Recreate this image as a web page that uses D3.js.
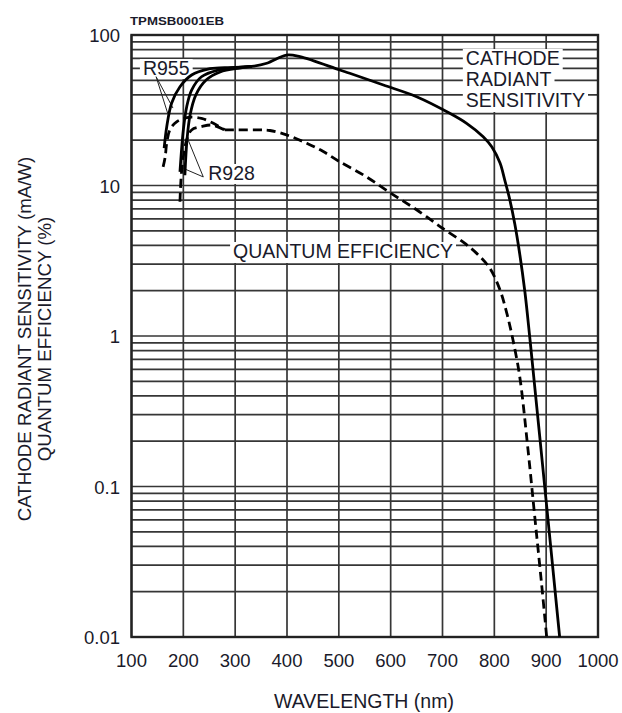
<!DOCTYPE html>
<html>
<head>
<meta charset="utf-8">
<script src="https://cdn.jsdelivr.net/npm/d3@7/dist/d3.min.js"></script>
<style>
  html, body { margin: 0; padding: 0; background: #fff; }
  svg { display: block; }
  text { font-family: "Liberation Sans", Arial, sans-serif; fill: #1a1a2a; }
</style>
</head>
<body>
<svg id="chart" width="622" height="713"></svg>
<script>
// Axis ticks
const xTicks = [100, 200, 300, 400, 500, 600, 700, 800, 900, 1000];
const yTicks = [0.01, 0.1, 1, 10, 100];
const yTickLabels = ["0.01", "0.1", "1", "10", "100"];

// Cathode radiant sensitivity (mA/W): R955 full curve
const sensR955Wl = [163, 168, 177.5, 193.5, 216, 247.5, 280, 332, 361, 399, 425, 502, 521, 586, 650, 714, 746.5, 778.5, 795, 811, 820, 830, 839.5, 849, 859, 868.5, 897.5, 926];
const sensR955 = [17.7, 24.6, 35.3, 45.3, 54.2, 59.4, 60.6, 61.8, 64.9, 73.6, 71.8, 58.5, 55.7, 46.5, 38.9, 30.2, 25.9, 21.1, 18.1, 14.1, 10.9, 8.0, 5.55, 3.51, 1.96, 0.97, 0.0977, 0.01];

// R928 short-wavelength rise (joins the R955 curve near 330 nm)
const sensR928Wl = [193.5, 200, 206.5, 216, 235, 267, 306, 332];
const sensR928 = [12.3, 23.4, 33.4, 43.1, 52.8, 58.5, 61, 61.8];
const sensR928bWl = [203, 207, 213, 224, 244, 271, 309, 332];
const sensR928b = [11.7, 20, 29.4, 39.9, 50.2, 56.8, 60.3, 61.8];

// Quantum efficiency (%): short-wavelength heads and common tail
const qeR955Wl = [161, 165, 168, 174, 187, 209.5, 235, 258, 280];
const qeR955 = [13.3, 15.5, 19.2, 23.4, 26.5, 28.4, 27.9, 25.9, 23.4];
const qeR928Wl = [193.5, 197, 206.5, 216, 235, 255, 280];
const qeR928 = [7.8, 12.7, 20.1, 23.4, 24.6, 25.2, 23.4];
const qeTailWl = [280, 303, 348, 367, 399, 438, 470, 500, 550, 600, 650, 700, 740, 766, 791, 811, 824, 836, 849, 865, 878, 891, 901];
const qeTail = [23.4, 23.4, 23.4, 23.2, 21.7, 19.1, 16.8, 14.5, 11.6, 8.9, 6.9, 5.2, 4.2, 3.54, 2.83, 2.02, 1.42, 0.94, 0.537, 0.175, 0.063, 0.0228, 0.01];

const svg = d3.select("#chart");
const plot = { left: 131.5, right: 598, top: 35, bottom: 637 };

const x = d3.scaleLinear().domain([100, 1000]).range([plot.left, plot.right]);
const y = d3.scaleLog().domain([0.01, 100]).range([plot.bottom, plot.top]);

const gridColor = "#363636";
const tickFont = 18.5;
const labelFont = 19.5;

// Vertical grid lines
svg.append("g").selectAll("line").data(xTicks).join("line")
  .attr("x1", d => x(d)).attr("x2", d => x(d))
  .attr("y1", plot.top).attr("y2", plot.bottom)
  .attr("stroke", gridColor).attr("stroke-width", 1.7);

// Horizontal log grid lines (1..9 per decade)
const hLines = [];
for (let e = -2; e < 2; e++) {
  for (let m = 1; m <= 9; m++) hLines.push(m * Math.pow(10, e));
}
hLines.push(100);
svg.append("g").selectAll("line").data(hLines).join("line")
  .attr("x1", plot.left).attr("x2", plot.right)
  .attr("y1", d => y(d)).attr("y2", d => y(d))
  .attr("stroke", gridColor).attr("stroke-width", 1.7);

// Frame
svg.append("rect")
  .attr("x", plot.left).attr("y", plot.top)
  .attr("width", plot.right - plot.left).attr("height", plot.bottom - plot.top)
  .attr("fill", "none").attr("stroke", "#222").attr("stroke-width", 2.4);

// Tick labels
svg.append("g").selectAll("text").data(xTicks).join("text")
  .attr("x", d => x(d)).attr("y", 667)
  .attr("text-anchor", "middle").attr("font-size", tickFont)
  .text(d => d);

svg.append("g").selectAll("text").data(yTicks).join("text")
  .attr("x", 120).attr("y", d => y(d) + 7)
  .attr("text-anchor", "end").attr("font-size", tickFont)
  .text((d, i) => yTickLabels[i]);

// Axis titles
svg.append("text")
  .attr("x", 364).attr("y", 708)
  .attr("text-anchor", "middle").attr("font-size", labelFont)
  .text("WAVELENGTH (nm)");

const yTitle = svg.append("text")
  .attr("transform", "translate(0,339) rotate(-90)")
  .attr("text-anchor", "middle").attr("font-size", 18.7);
yTitle.append("tspan").attr("x", 0).attr("y", 31).text("CATHODE RADIANT SENSITIVITY (mA/W)");
yTitle.append("tspan").attr("x", 0).attr("y", 51).text("QUANTUM EFFICIENCY (%)");

svg.append("text")
  .attr("x", 130).attr("y", 25)
  .attr("font-size", 10.5).attr("font-weight", "bold")
  .attr("textLength", 94).attr("lengthAdjust", "spacingAndGlyphs")
  .attr("fill", "#333")
  .text("TPMSB0001EB");

// Text labels inside the plot, each on a white backing
function boxedLabel(lines, wl, val, lineHeight) {
  const g = svg.append("g");
  const x0 = x(wl), y0 = y(val);
  lines.forEach((t, i) => {
    const tx = g.append("text")
      .attr("x", x0).attr("y", y0 + i * lineHeight)
      .attr("font-size", labelFont).text(t);
    const bb = tx.node().getBBox();
    g.insert("rect", "text")
      .attr("x", bb.x - 3).attr("y", y0 + i * lineHeight - 16)
      .attr("width", bb.width + 6).attr("height", lineHeight)
      .attr("fill", "#fff");
  });
  return g;
}

boxedLabel(["CATHODE", "RADIANT", "SENSITIVITY"], 745, 10 ** (2 - 30 / 150.5), 21);
boxedLabel(["QUANTUM EFFICIENCY"], 296, 10 ** (2 - 223 / 150.5), 21);
boxedLabel(["R955"], 122, 10 ** (2 - 40 / 150.5), 20);
boxedLabel(["R928"], 248, 10 ** (2 - 145 / 150.5), 20);

// Leader lines from type labels to their curves
const leaders = [
  [[147.5, 52.8], [169.8, 30.2]],
  [[147.5, 52.8], [180, 32.7]],
  [[238.5, 11.4], [209.5, 20.0]],
  [[238.5, 11.4], [200, 13.0]]
];
svg.append("g").selectAll("line").data(leaders).join("line")
  .attr("x1", d => x(d[0][0])).attr("y1", d => y(d[0][1]))
  .attr("x2", d => x(d[1][0])).attr("y2", d => y(d[1][1]))
  .attr("stroke", "#222").attr("stroke-width", 1);

// Curves
const line = d3.line().x(d => x(d[0])).y(d => y(d[1])).curve(d3.curveCatmullRom.alpha(0.5));
const zip = (a, b) => a.map((v, i) => [v, b[i]]);

const curves = svg.append("g").attr("fill", "none").attr("stroke", "#000")
  .attr("stroke-width", 2.8).attr("stroke-linejoin", "round");

curves.append("path").attr("d", line(zip(sensR955Wl, sensR955)));
curves.append("path").attr("d", line(zip(sensR928Wl, sensR928)));
curves.append("path").attr("d", line(zip(sensR928bWl, sensR928b)));

[zip(qeR955Wl, qeR955), zip(qeR928Wl, qeR928), zip(qeTailWl, qeTail)].forEach(pts => {
  curves.append("path").attr("d", line(pts)).attr("stroke-dasharray", "9,5");
});
</script>
</body>
</html>
